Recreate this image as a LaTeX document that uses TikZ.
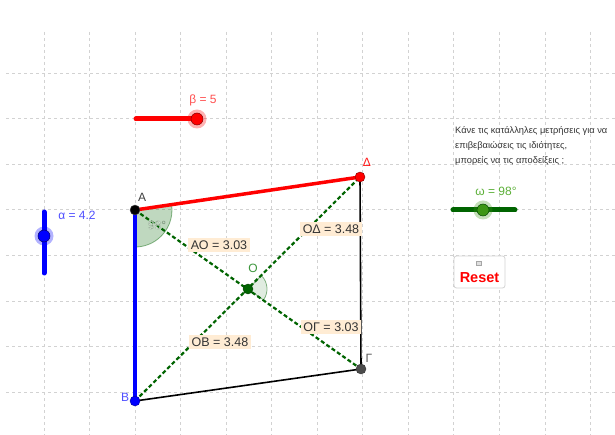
\documentclass[tikz,border=0pt]{standalone}
\usepackage{fontspec}
\setmainfont{Liberation Sans}
\definecolor{gridc}{RGB}{210,210,210}
\definecolor{labelbg}{RGB}{255,236,212}
\definecolor{diagc}{RGB}{0,100,0}
\definecolor{txtc}{RGB}{51,51,51}
\definecolor{betac}{RGB}{255,80,80}
\definecolor{alphac}{RGB}{80,80,255}
\definecolor{omegac}{RGB}{92,176,56}
\definecolor{knobg}{RGB}{60,150,20}
\definecolor{ptlabg}{RGB}{60,150,60}
\definecolor{anglab}{RGB}{240,245,240}
\tikzset{
  gridline/.style={draw=gridc, line width=0.8pt, dash pattern=on 3pt off 3pt},
  pt/.style={circle, inner sep=0pt, minimum size=10pt, draw=black!70, line width=0.4pt},
  lenlab/.style={fill=labelbg, inner sep=2.5pt, text=txtc, font=\fontsize{12.5}{14}\selectfont},
  diag/.style={draw=diagc, line width=2.2pt, dash pattern=on 4pt off 2.5pt},
  sliderline/.style={line width=5pt, line cap=round},
  halo/.style={circle, inner sep=0pt, minimum size=19pt, opacity=0.3},
  knob/.style={circle, inner sep=0pt, minimum size=12pt, draw=black!60, line width=0.5pt},
  ptlabel/.style={font=\fontsize{12}{14}\selectfont},
  infotext/.style={anchor=west, text=txtc, font=\fontsize{9.3}{11}\selectfont, inner sep=0pt},
}
\begin{document}
\begin{tikzpicture}[x=1pt,y=-1pt, font=\fontsize{12}{14}\selectfont]
\useasboundingbox (0,0) rectangle (615,435);
\fill[white] (0,0) rectangle (615,435);
% grid
\foreach \i in {0,...,12} \draw[gridline] ({43.9+45.55*\i},32) -- ({43.9+45.55*\i},435);
\foreach \j in {0,...,7} \draw[gridline] (6,{73+45.6*\j}) -- (615,{73+45.6*\j});

% points
\coordinate (A) at (135,210);
\coordinate (B) at (135,401);
\coordinate (G) at (361,369);
\coordinate (D) at (360,177);
\coordinate (O) at (248,289);

% angles
\filldraw[fill=diagc, fill opacity=0.25, draw=diagc, draw opacity=0.45, line width=0.8pt]
  (A) -- ++(-8.3:37) arc[start angle=-8.3, end angle=90, radius=37] -- cycle;
\filldraw[fill=diagc, fill opacity=0.12, draw=diagc, draw opacity=0.45, line width=0.8pt]
  (O) -- ++(-45:19) arc[start angle=-45, end angle=35.3, radius=19] -- cycle;

% diagonals
\draw[diag] (A) -- (G);
\draw[diag] (B) -- (D);
\node[text=anglab, font=\fontsize{12}{13}\selectfont, inner sep=0pt] (ang) at (157,225)
  {\special{pdf:literal 2 Tr 0.3 w 0.55 0.65 0.55 RG}98°\special{pdf:literal 0 Tr}};

% sides
\draw[black, line width=1.6pt] (B) -- (G);
\draw[black, line width=1.6pt] (G) -- (D);
\draw[red, line width=3.5pt] (A) -- (D);
\draw[blue, line width=3.5pt] (A) -- (B);

% length labels
\node[lenlab] (lAO) at (219,245) {ΑΟ = 3.03};
\node[lenlab] (lOD) at (331,229) {ΟΔ = 3.48};
\node[lenlab] (lOG) at (331,327) {ΟΓ = 3.03};
\node[lenlab] (lOB) at (220,342) {ΟΒ = 3.48};

% point dots
\node[pt, fill=black] (pA) at (A) {};
\node[pt, fill=blue, draw=blue!60!black] (pB) at (B) {};
\node[pt, fill=black!70, draw=black!80] (pG) at (G) {};
\node[pt, fill=red, draw=red!50!black] (pD) at (D) {};
\node[pt, fill=diagc, draw=diagc!60!black] (pO) at (O) {};

% point labels
\node[ptlabel, text=black!75] (tA) at (142,197) {Α};
\node[ptlabel, text=alphac] (tB) at (125,397) {Β};
\node[ptlabel, text=black!65] (tG) at (369,358) {Γ};
\node[ptlabel, text=red!90] (tD) at (367,162) {Δ};
\node[ptlabel, text=ptlabg] (tO) at (253,268) {Ο};

% slider beta
\coordinate (bs) at (136,119);
\coordinate (be) at (197,119);
\draw[sliderline, red] (bs) -- (be);
\node[halo, fill=red] (bh) at (be) {};
\node[knob, fill=red, draw=red!50!black] (bk) at (be) {};
\node[text=betac] (bl) at (203,100) {β = 5};

% slider alpha
\coordinate (as) at (44,212);
\coordinate (ae) at (44,273);
\draw[sliderline, blue] (as) -- (ae);
\node[halo, fill=blue] (ah) at (44,236) {};
\node[knob, fill=blue, draw=blue!40!black] (ak) at (44,236) {};
\node[text=alphac] (al) at (77,215) {α = 4.2};

% slider omega
\coordinate (os) at (453,210);
\coordinate (oe) at (515,210);
\draw[sliderline, diagc] (os) -- (oe);
\node[halo, fill=knobg] (oh) at (483,210) {};
\node[knob, fill=knobg, draw=diagc!70!black] (ok) at (483,210) {};
\node[text=omegac] (ol) at (496,191) {ω = 98°};

% text
\node[infotext] (t1) at (455,131) {Κάνε τις κατάλληλες μετρήσεις για να};
\node[infotext] (t2) at (455,146) {επιβεβαιώσεις τις ιδιότητες,};
\node[infotext] (t3) at (455,161) {μπορείς να τις αποδείξεις ;};

% reset button
\node[draw=gray!35, fill=white, rounded corners=2.5pt, minimum width=51pt, minimum height=32pt, line width=0.8pt] (rb) at (479.5,272) {};
\node[draw=gray!70, fill=gray!25, inner sep=0pt, minimum width=5pt, minimum height=4pt, line width=0.5pt] (ricon) at (479,263) {};
\node[text=red, font=\bfseries\fontsize{14.5}{16}\selectfont] (rt) at (479.5,278) {Reset};
\end{tikzpicture}
\end{document}
